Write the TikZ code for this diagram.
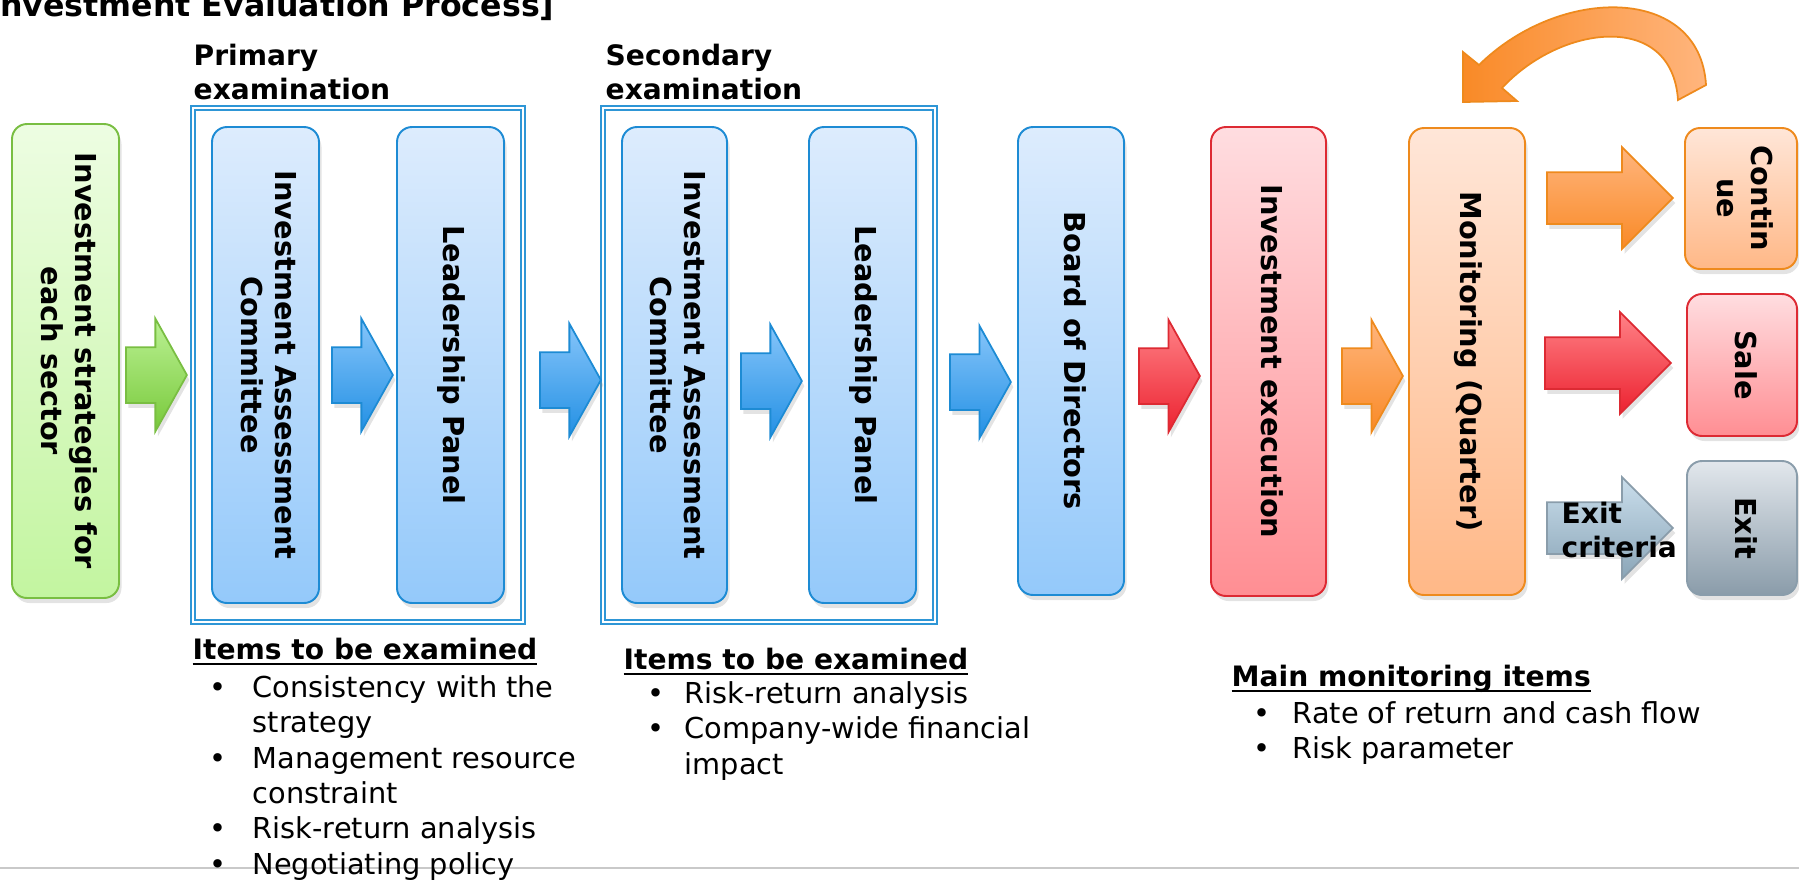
\documentclass[tikz,border=0pt]{standalone}
\usepackage{fontspec}
\setmainfont{DejaVu Sans}
\usepackage{graphicx}
\usetikzlibrary{shapes.arrows,shadows,fit}

\definecolor{grnline}{HTML}{79BE42}
\definecolor{grntop}{HTML}{EDFDE2}
\definecolor{grnbot}{HTML}{C3F5A0}
\definecolor{grnarrtop}{HTML}{BBF194}
\definecolor{grnarrbot}{HTML}{78C93A}
\definecolor{blueline}{HTML}{1D8BD4}
\definecolor{bluetop}{HTML}{DDECFD}
\definecolor{bluebot}{HTML}{94C9FA}
\definecolor{bluearrtop}{HTML}{86C5FA}
\definecolor{bluearrbot}{HTML}{2390E4}
\definecolor{frameblue}{HTML}{2E96D6}
\definecolor{redline}{HTML}{DD2A33}
\definecolor{redtop}{HTML}{FFDDE0}
\definecolor{redbot}{HTML}{FF8E93}
\definecolor{redarrtop}{HTML}{FF8287}
\definecolor{redarrbot}{HTML}{EC2230}
\definecolor{orline}{HTML}{EE8A1D}
\definecolor{ortop}{HTML}{FFE6D8}
\definecolor{orbot}{HTML}{FFB887}
\definecolor{orarrtop}{HTML}{FFB57D}
\definecolor{orarrbot}{HTML}{F98A27}
\definecolor{exline}{HTML}{8A9DAB}
\definecolor{extop}{HTML}{E2E7EC}
\definecolor{exbot}{HTML}{8A9CAA}
\definecolor{exarrtop}{HTML}{CADEEC}
\definecolor{exarrbot}{HTML}{8AA5B7}
\definecolor{sepgray}{HTML}{C9C9C9}

\newcommand{\vlabel}[1]{\rotatebox{-90}{\begin{tabular}{@{}c@{}}#1\end{tabular}}}

\tikzset{
  stage/.style={rectangle, rounded corners=1.5mm, line width=0.55pt, inner sep=0pt,
    font=\fontsize{8.2}{9.6}\selectfont\bfseries,
    drop shadow={shadow xshift=0.25mm, shadow yshift=-0.5mm, opacity=0.22}},
  greenbox/.style={stage, draw=grnline, top color=grntop, bottom color=grnbot},
  bluebox/.style={stage, draw=blueline, top color=bluetop, bottom color=bluebot,
    minimum width=10.7mm, minimum height=47.6mm},
  redbox/.style={stage, draw=redline, top color=redtop, bottom color=redbot},
  orangebox/.style={stage, draw=orline, top color=ortop, bottom color=orbot},
  greybox/.style={stage, draw=exline, top color=extop, bottom color=exbot},
  examframe/.style={draw=frameblue, double, double distance=0.7pt, line width=0.4pt,
    inner sep=1.8mm},
  flowarrow/.style={single arrow, anchor=tail, inner xsep=0pt, inner ysep=2.7mm,
    line width=0.5pt, minimum height=6.1mm,
    single arrow head extend=2.85mm, single arrow tip angle=121.6,
    drop shadow={shadow xshift=0.25mm, shadow yshift=-0.5mm, opacity=0.22}},
  outarrow/.style={flowarrow, minimum height=12.6mm, inner ysep=2.5mm,
    single arrow head extend=2.5mm, single arrow tip angle=90},
  greenarrow/.style={draw=grnline, top color=grnarrtop, bottom color=grnarrbot},
  bluearrow/.style={draw=blueline, top color=bluearrtop, bottom color=bluearrbot},
  redarrow/.style={draw=redline, top color=redarrtop, bottom color=redarrbot},
  orangearrow/.style={draw=orline, top color=orarrtop, bottom color=orarrbot},
  greyarrow/.style={draw=exline, top color=exarrtop, bottom color=exarrbot},
  heading/.style={anchor=base west, inner sep=0pt, font=\fontsize{8}{9.7}\selectfont\bfseries},
  itemlist/.style={anchor=base west, inner sep=0pt, font=\fontsize{8.2}{10.1}\selectfont},
}

\begin{document}
\begin{tikzpicture}[x=0.1mm, y=-0.1mm]
\useasboundingbox (0,0) rectangle (1799,879);

\draw[sepgray, line width=0.6pt] (0,868) -- (1799,868);

\node[anchor=base east, inner sep=0pt, font=\fontsize{9}{11}\selectfont\bfseries] (title)
  at (555,16) {[Investment Evaluation Process]};

% stages
\node[greenbox, minimum width=10.7mm, minimum height=47.4mm] (sector) at (65.5,361)
  {\vlabel{Investment strategies for\\each sector}};
\node[bluebox] (iac1) at (265.5,365) {\vlabel{Investment Assessment\\Committee}};
\node[bluebox] (lp1) at (450.5,365) {\vlabel{Leadership Panel}};
\node[bluebox, minimum width=10.5mm] (iac2) at (674.5,365) {\vlabel{Investment Assessment\\Committee}};
\node[bluebox] (lp2) at (862.5,365) {\vlabel{Leadership Panel}};
\node[bluebox, minimum width=10.6mm, minimum height=46.8mm] (board) at (1071,361)
  {\vlabel{Board of Directors}};
\node[redbox, minimum width=11.5mm, minimum height=46.9mm] (exec) at (1268.5,361.5)
  {\vlabel{Investment execution}};
\node[orangebox, minimum width=11.6mm, minimum height=46.7mm] (monitor) at (1467,361.5)
  {\vlabel{Monitoring (Quarter)}};
\node[orangebox, minimum width=11.2mm, minimum height=14.1mm] (cont) at (1741,198.5)
  {\vlabel{Contin\\ue}};
\node[redbox, minimum width=11mm, minimum height=14.2mm] (sale) at (1742,365) {\vlabel{Sale}};
\node[greybox, minimum width=11mm, minimum height=13.4mm] (exit) at (1742,528) {\vlabel{Exit}};

% examination groups
\node[examframe, fit=(iac1)(lp1)] (primary) {};
\node[examframe, fit=(iac2)(lp2)] (secondary) {};
\node[heading] (primlab) at (193,65) {\begin{tabular}[t]{@{}l@{}}Primary\\examination\end{tabular}};
\node[heading] (seclab) at (605,65) {\begin{tabular}[t]{@{}l@{}}Secondary\\examination\end{tabular}};

% flow arrows
\node[flowarrow, greenarrow] (ar0) at (125,375) {};
\node[flowarrow, bluearrow] (ar1) at (331,375) {};
\node[flowarrow, bluearrow] (ar2) at (539,380) {};
\node[flowarrow, bluearrow] (ar3) at (740,381) {};
\node[flowarrow, bluearrow] (ar4) at (949,382) {};
\node[flowarrow, redarrow] (ar5) at (1138,376) {};
\node[flowarrow, orangearrow] (ar6) at (1341,376) {};
\node[outarrow, orangearrow] (arcont) at (1546,198) {};
\node[outarrow, redarrow] (arsale) at (1544,363) {};
\node[outarrow, greyarrow] (arexit) at (1546,528) {};
\node[heading] (crit) at (1561,523) {\begin{tabular}[t]{@{}l@{}}Exit\\criteria\end{tabular}};

% loop back to monitoring
\draw[orline, line width=0.5pt, left color=orarrbot, right color=orarrtop]
  (1706,85) .. controls (1700,-15) and (1560,-15) .. (1479,65)
  -- (1463,52) -- (1463,102) -- (1517,101) -- (1502,88)
  .. controls (1560,25) and (1672,10) .. (1678,100) -- cycle;

% items
\node[heading] (exam1) at (192,659) {\underline{\smash{Items to be examined}}};
\node[itemlist] (list1) at (209,697) {\begin{tabular}[t]{@{}p{4.3mm}@{}l@{}}
  • & Consistency with the\\
    & strategy\\
  • & Management resource\\
    & constraint\\
  • & Risk-return analysis\\
  • & Negotiating policy
  \end{tabular}};
\node[heading] (exam2) at (623,669) {\underline{\smash{Items to be examined}}};
\node[itemlist] (list2) at (647,703) {\begin{tabular}[t]{@{}p{3.7mm}@{}l@{}}
  • & Risk-return analysis\\
  • & Company-wide financial\\
    & impact
  \end{tabular}};
\node[heading] (mon) at (1231,686) {\underline{\smash{Main monitoring items}}};
\node[itemlist] (list3) at (1253,723) {\begin{tabular}[t]{@{}p{3.9mm}@{}l@{}}
  • & Rate of return and cash flow\\
  • & Risk parameter
  \end{tabular}};
\end{tikzpicture}
\end{document}
